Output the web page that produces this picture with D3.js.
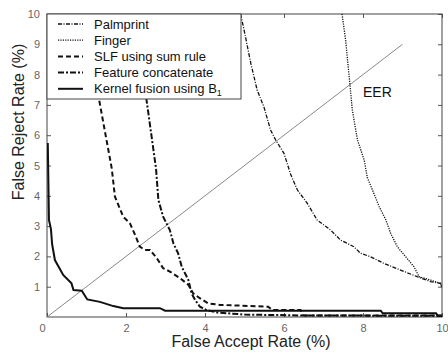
<!DOCTYPE html>
<html>
<head>
<meta charset="utf-8">
<script src="https://cdn.jsdelivr.net/npm/d3@7"></script>
<style>
  body { margin: 0; background: #fff; }
  text { font-family: "Liberation Sans", Arial, sans-serif; }
</style>
</head>
<body>
<div id="chart"></div>
<script>
// values (FAR %, FRR %)
const xTicks = [0, 2, 4, 6, 8, 10];
const yTicks = [1, 2, 3, 4, 5, 6, 7, 8, 9, 10];

const palmFAR = [4.9, 4.99, 5.16, 5.32, 5.49, 5.66, 5.79, 6.0, 6.17, 6.34, 6.59, 6.84, 7.18, 7.43, 7.77, 7.94, 8.19, 8.53, 8.95, 9.37, 9.71, 9.96, 10];
const palmFRR = [10, 9.47, 8.37, 7.49, 6.94, 6.17, 5.84, 5.4, 4.7, 4.19, 3.75, 3.2, 2.87, 2.54, 2.32, 2.1, 1.99, 1.77, 1.55, 1.33, 1.17, 1.11, 0.95];

const fingerFAR = [7.47, 7.56, 7.65, 7.73, 7.86, 8.03, 8.11, 8.24, 8.41, 8.58, 8.7, 8.87, 9.08, 9.29, 9.42, 9.71, 9.96, 10];
const fingerFRR = [10, 9.14, 7.93, 6.83, 5.84, 5.18, 4.6, 4.19, 3.64, 3.2, 2.76, 2.32, 1.99, 1.66, 1.33, 1.22, 1.11, 1.0];

const slfFAR = [0.95, 1.32, 1.64, 1.72, 1.93, 2.1, 2.23, 2.35, 2.48, 2.61, 2.78, 2.94, 3.11, 3.37, 3.58, 3.7, 3.87, 4.08, 4.38, 5.6, 5.7, 6.42, 6.48, 10];
const slfFRR = [10, 7.16, 4.9, 3.97, 3.31, 3.09, 2.71, 2.32, 2.21, 2.21, 1.94, 1.61, 1.5, 1.28, 1.06, 0.78, 0.62, 0.45, 0.4, 0.34, 0.23, 0.23, 0.05, 0.05];

const featFAR = [2.3, 2.52, 2.76, 2.82, 2.94, 3.11, 3.2, 3.32, 3.41, 3.58, 3.66, 3.75, 3.87, 4.04, 4.3, 5.0, 6.5, 10];
const featFRR = [10, 7.16, 4.9, 3.86, 3.31, 2.87, 2.43, 2.1, 1.66, 1.22, 0.78, 0.56, 0.34, 0.23, 0.15, 0.08, 0.05, 0.04];

const kernelFAR = [0.02, 0.05, 0.1, 0.13, 0.2, 0.41, 0.62, 0.67, 0.88, 1.02, 1.34, 1.68, 1.93, 2.86, 2.99, 8.45, 8.5, 9.85, 9.9, 10];
const kernelFRR = [5.74, 3.2, 2.9, 2.4, 1.88, 1.39, 1.11, 0.89, 0.87, 0.58, 0.5, 0.36, 0.29, 0.29, 0.21, 0.21, 0.12, 0.12, 0.03, 0.03];

const eerFAR = [0, 9];
const eerFRR = [0, 9];

const names = ["Palmprint", "Finger", "SLF using sum rule", "Feature concatenate", "Kernel fusion using B"];

let width = 448, height = 353;
const margin = {top: 14, right: 6, bottom: 36, left: 47};
let w = width - margin.left - margin.right, h = height - margin.top - margin.bottom;

let svg = d3.select("#chart").append("svg")
    .attr("width", width)
    .attr("height", height);

let g = svg.append("g")
    .attr("transform", `translate(${margin.left}, ${margin.top})`);

let x = d3.scaleLinear().domain([0, 10]).range([0, w]);
let y = d3.scaleLinear().domain([0, 10]).range([h, 0]);

// clip curves to the axes box
svg.append("defs").append("clipPath").attr("id", "clip")
  .append("rect").attr("width", w).attr("height", h);

// axes, MATLAB style ticks pointing in
let xAxis = g.append("g").attr("transform", `translate(0, ${h})`)
    .call(d3.axisBottom(x).tickValues(xTicks).tickSizeInner(-4).tickSizeOuter(0).tickPadding(7));
let yAxis = g.append("g")
    .call(d3.axisLeft(y).tickValues(yTicks).tickSizeInner(-4).tickSizeOuter(0).tickPadding(7));
g.append("g")
    .call(d3.axisTop(x).tickValues(xTicks).tickSizeInner(-4).tickSizeOuter(0).tickFormat(""));
g.append("g").attr("transform", `translate(${w}, 0)`)
    .call(d3.axisRight(y).tickValues(yTicks).tickSizeInner(-4).tickSizeOuter(0).tickFormat(""));

g.selectAll(".domain").remove();
g.selectAll(".tick line").attr("stroke", "#555");
g.selectAll(".tick text")
    .style("font-size", "11px")
    .style("font-family", "'Liberation Sans', Arial, sans-serif")
    .attr("fill", "#666");
xAxis.selectAll(".tick text").filter(d => d === 0).attr("dx", -5);

g.append("rect")
    .attr("width", w).attr("height", h)
    .attr("fill", "none")
    .attr("stroke", "#444")
    .attr("stroke-width", 1);

// EER diagonal
let line = d3.line().x(d => x(d[0])).y(d => y(d[1]));
g.append("path")
    .attr("d", line(d3.zip(eerFAR, eerFRR)))
    .attr("fill", "none")
    .attr("stroke", "#888")
    .attr("stroke-width", 1);

g.append("text")
    .attr("x", x(8.0)).attr("y", y(7.25))
    .style("font-size", "14px")
    .attr("fill", "#111")
    .text("EER");

const series = [
  {far: palmFAR, frr: palmFRR, dash: "4,1.5,1,1.5", sw: 1.3},
  {far: fingerFAR, frr: fingerFRR, dash: "1.2,1.2", sw: 1.3},
  {far: slfFAR, frr: slfFRR, dash: "5,3", sw: 2},
  {far: featFAR, frr: featFRR, dash: "6,2,2,2", sw: 2},
  {far: kernelFAR, frr: kernelFRR, dash: null, sw: 2}
];

let curves = g.append("g").attr("clip-path", "url(#clip)");
curves.selectAll("path").data(series).enter()
  .append("path")
    .attr("d", d => line(d3.zip(d.far, d.frr)))
    .attr("fill", "none")
    .attr("stroke", "#111")
    .attr("stroke-width", d => d.sw)
    .attr("stroke-dasharray", d => d.dash);

// legend box
let legend = g.append("g");
legend.append("rect")
    .attr("x", 0).attr("y", 0)
    .attr("width", 194).attr("height", 85)
    .attr("fill", "#fff")
    .attr("stroke", "#444");

let rows = legend.selectAll(".row").data(series).enter()
  .append("g")
    .attr("transform", (d, i) => `translate(0, ${10 + i * 16.2})`);
rows.append("line")
    .attr("x1", 11).attr("x2", 36)
    .attr("stroke", "#111")
    .attr("stroke-width", d => d.sw)
    .attr("stroke-dasharray", d => d.dash);
rows.append("text")
    .attr("x", 47).attr("y", 4.5)
    .style("font-size", "13px")
    .attr("fill", "#111")
    .text((d, i) => names[i])
  .filter((d, i) => i === 4)
  .append("tspan")
    .attr("dy", 3)
    .style("font-size", "9px")
    .text("1");

// axis titles
svg.append("text")
    .attr("x", 251).attr("y", 347)
    .style("text-anchor", "middle")
    .style("font-size", "16px")
    .attr("fill", "#222")
    .text("False Accept Rate (%)");

svg.append("text")
    .attr("transform", "translate(24, 122) rotate(-90)")
    .style("text-anchor", "middle")
    .style("font-size", "16px")
    .attr("fill", "#222")
    .text("False Reject Rate (%)");
</script>
</body>
</html>
